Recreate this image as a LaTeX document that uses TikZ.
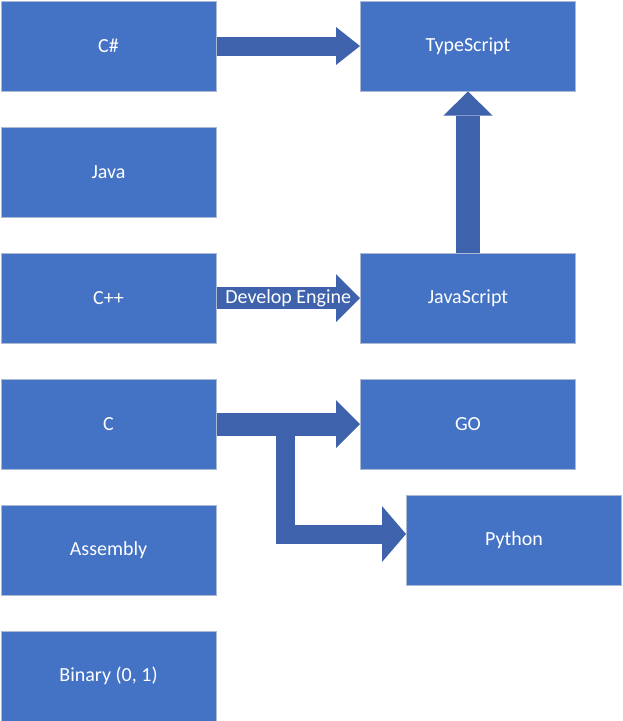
\documentclass[tikz,border=0pt]{standalone}
\usepackage{fontspec}
\setmainfont{Carlito}
\usetikzlibrary{arrows.meta,calc}

\begin{document}
\begin{tikzpicture}[x=1pt, y=-1pt]
    % Define palette
    \definecolor{langblue}{RGB}{68,114,196}
    \definecolor{arrowblue}{RGB}{62,99,172}
    \definecolor{boxedge}{RGB}{172,185,210}

    % Define styles
    \tikzset{
        lang/.style={
            draw=boxedge,
            fill=langblue,
            line width=1pt,
            minimum width=215pt,
            minimum height=90pt,
            inner sep=0pt,
            text=white,
            font=\fontsize{20pt}{24pt}\selectfont
        },
        fat/.style 2 args={
            draw=arrowblue,
            line width=#1,
            line join=miter,
            -{Triangle[length=24pt, width=#2, line width=0pt]}
        }
    }

    \useasboundingbox (0,0) rectangle (623,721);

    % Left column
    \node[lang] (csharp) at (108.5, 46) {C\#};
    \node[lang] (java) at (108.5, 172) {Java};
    \node[lang] (cpp) at (108.5, 298) {C++};
    \node[lang] (c) at (108.5, 424) {C};
    \node[lang] (asm) at (108.5, 550) {Assembly};
    \node[lang] (binary) at (108.5, 676) {Binary (0, 1)};

    % Right column
    \node[lang] (ts) at (468, 46) {TypeScript};
    \node[lang] (js) at (468, 298) {JavaScript};
    \node[lang] (go) at (468, 424) {GO};
    \node[lang] (python) at (514, 540) {Python};

    % Arrows
    \draw[fat={19pt}{38pt}] (csharp.east) -- (ts.west);
    \draw[fat={22pt}{48pt}] (cpp.east) -- (js.west)
        node[midway, text=white, font=\fontsize{20pt}{24pt}\selectfont] {Develop Engine};
    \draw[fat={24pt}{49pt}] (js.north) -- (ts.south);
    \draw[fat={23pt}{48pt}] (c.east) -- (go.west);
    \coordinate (split) at ([xshift=69pt, yshift=-8pt]c.east);
    \draw[fat={19pt}{56pt}] (split) |- ([yshift=6pt]python.west);

\end{tikzpicture}
\end{document}
